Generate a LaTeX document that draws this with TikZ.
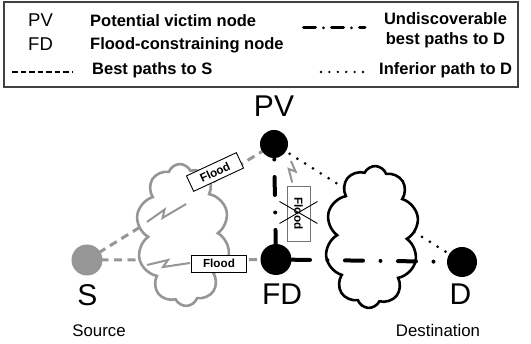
\documentclass[tikz,border=0pt]{standalone}
\usepackage{fontspec}
\setmainfont{Liberation Sans}
\usetikzlibrary{shapes.symbols,calc}
\pgfdeclarelayer{lyA}\pgfdeclarelayer{lyB}\pgfdeclarelayer{lyC}
\pgfsetlayers{lyA,lyB,lyC,main}
\definecolor{lgray}{RGB}{150,150,150}
\tikzset{
  grayflow/.style={draw=lgray, line width=3pt, dash pattern=on 8pt off 5.5pt},
  inferior/.style={draw=black, line width=3pt, line cap=round, dash pattern=on 0pt off 9.2pt},
  undisc/.style={draw=black, line width=4pt, line cap=round, dash pattern=on 18pt off 17.5pt on 0pt off 17.5pt},
  blackdot/.style={circle, fill=black, inner sep=0pt, minimum size=30pt},
  floodbox/.style={draw, fill=white, line width=0.9pt, font=\fontsize{11.7}{12}\selectfont\bfseries, inner sep=0pt, minimum width=55pt, minimum height=17pt},
  bolt/.style={draw=lgray, line width=2pt, line join=miter},
  legtext/.style={font=\fontsize{16.5}{18}\selectfont\bfseries, inner sep=0pt},
  legsym/.style={font=\fontsize{18.5}{20}\selectfont, inner sep=0pt, anchor=base west},
  biglabel/.style={font=\fontsize{30}{32}\selectfont, inner sep=0pt, anchor=base},
  captext/.style={font=\fontsize{16.8}{18}\selectfont, inner sep=0pt, anchor=base},
  cloudy/.style={cloud, cloud puffs=10, cloud puff arc=135, aspect=0.68, fill=white, line width=2.6pt, inner sep=0pt},
  pics/zap/.style={code={\draw[bolt] (0,0) -- (21,-5) -- (16,2) -- (43,-2);}}
}
\begin{document}
\begin{tikzpicture}[x=1pt, y=-1pt]
\useasboundingbox (0,0) rectangle (531,344);
% legend
\draw[black!75, line width=1.2pt] (4,2) rectangle (518,87);
\node[legsym] (lPV) at (28,27) {PV};
\node[legsym] (lFD) at (28,50.5) {FD};
\node[legtext, anchor=base west] (t1) at (90,26.7) {Potential victim node};
\node[legtext, anchor=base west] (t2) at (90,50) {Flood-constraining node};
\node[legtext, anchor=base west] (t3) at (92,75) {Best paths to S};
\node[legtext, anchor=base] (t4) at (445.5,25) {Undiscoverable};
\node[legtext, anchor=base] (t5) at (445.5,45) {best paths to D};
\node[legtext, anchor=base west] (t6) at (379,75) {Inferior path to D};
\coordinate (la1) at (12,72); \coordinate (la2) at (72,72);
\draw[black, line width=2pt, dash pattern=on 5.5pt off 3pt] (la1) -- (la2);
\coordinate (lb1) at (303.5,28); \coordinate (lb2) at (365,28);
\draw[black, line width=3pt, line cap=round, dash pattern=on 12pt off 8pt on 0pt off 8pt] (lb1) -- (lb2);
\coordinate (lc1) at (321,72); \coordinate (lc2) at (364,72);
\draw[black, line width=2.6pt, line cap=round, dash pattern=on 0pt off 8.4pt] (lc1) -- (lc2);

% nodes
\node[blackdot, minimum size=28pt] (PV) at (274,144) {};
\node[blackdot, minimum size=31pt] (FD) at (276,259.5) {};
\node[blackdot] (D) at (462,262) {};
\node[blackdot, fill=lgray, minimum size=31pt] (S) at (87,260) {};

\node[biglabel] (PVl) at (274,117) {PV};
\node[biglabel] (FDl) at (282,305) {FD};
\node[biglabel] (Dl) at (460.5,305) {D};
\node[biglabel] (Sl) at (87.5,306) {S};
\node[captext] (src) at (99,337) {Source};
\node[captext] (dst) at (438,337) {Destination};

% lines
\begin{pgfonlayer}{lyA}
\draw[grayflow] (S.center) -- (PV.center);
\draw[grayflow] (S.center) -- (FD.center);
\draw[inferior] (PV.center) -- (D.center);
\end{pgfonlayer}
\begin{pgfonlayer}{lyB}
\node[cloudy, draw=lgray, minimum width=94pt, minimum height=142pt, rotate=3] (cg) at (183,235) {};
\node[cloudy, draw=black, minimum width=94pt, minimum height=142pt, rotate=-3] (cb) at (372,237) {};
\end{pgfonlayer}
\begin{pgfonlayer}{lyC}
\draw[undisc, dash phase=20pt] (PV.center) -- (FD.center);
\draw[undisc, dash phase=37pt] (FD.center) -- (D.center);
\end{pgfonlayer}

% floods
\pic[rotate=22] at (147,222) {zap};
\pic at (147,265) {zap};
\pic[rotate=-92, xscale=0.5] at (291,161) {zap};
\node[floodbox, rotate=25] (f1) at (215,172) {Flood};
\node[floodbox] (f2) at (219,263.5) {Flood};
\node[floodbox, draw=black!55, minimum width=55pt, minimum height=23pt, rotate=-90] (f3) at (298.5,213.5) {Flood};
\draw[line width=0.9pt] ($(f3.center)+(-19,-12)$) -- ($(f3.center)+(19,10)$);
\draw[line width=0.9pt] ($(f3.center)+(-19,10)$) -- ($(f3.center)+(19,-12)$);
\end{tikzpicture}
\end{document}
